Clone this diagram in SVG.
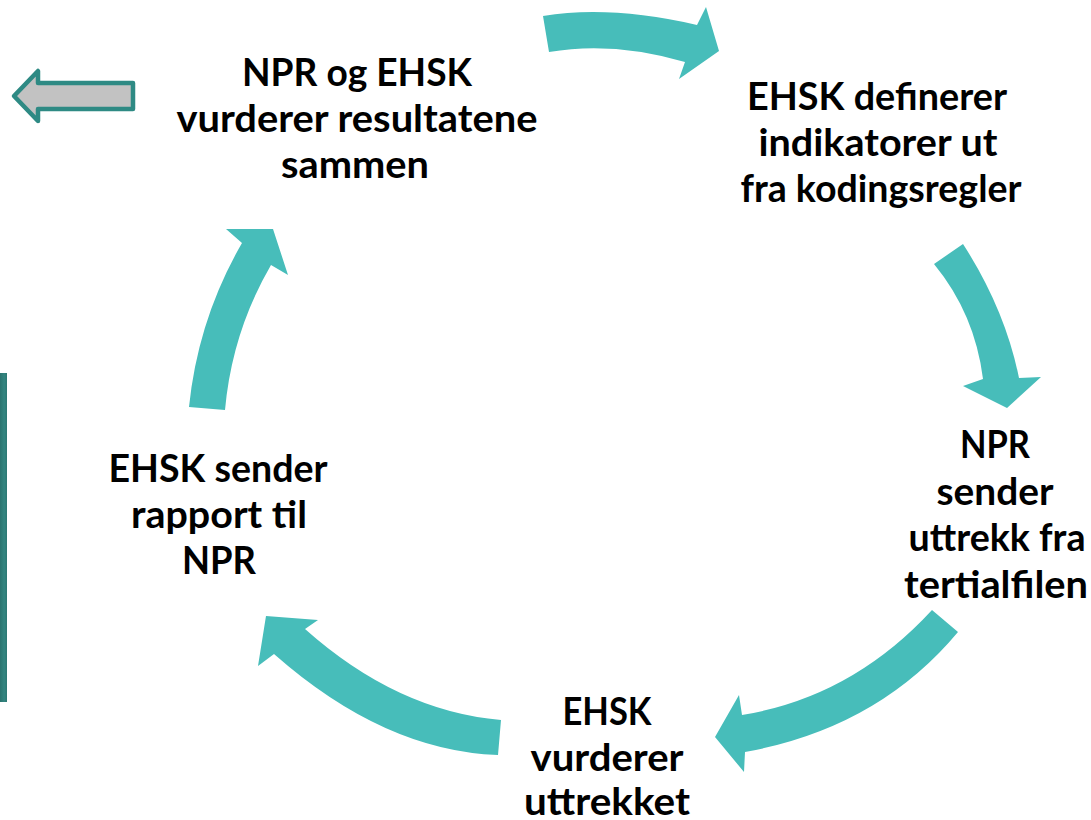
<svg xmlns="http://www.w3.org/2000/svg" width="1091" height="820" viewBox="0 0 1091 820">
  <defs>
    <linearGradient id="barGrad" x1="0" y1="0" x2="1" y2="0">
      <stop offset="0" stop-color="#2a736e"/>
      <stop offset="0.6" stop-color="#338580"/>
      <stop offset="1" stop-color="#2c7873"/>
    </linearGradient>
    <style>
      .arrow { fill: #47BDBA; stroke: none; }
      .lbl { font-family: "Lato", "Open Sans", "Liberation Sans", sans-serif; font-weight: 700; font-size: 38px; fill: #000000; text-anchor: middle; }
      .back { fill: #C2C2C2; stroke: #2E8A84; stroke-width: 4.5; stroke-linejoin: round; }
    </style>
  </defs>
  <rect width="1091" height="820" fill="#FFFFFF"/>

  <g id="side-bar">
    <rect x="0" y="373" width="7" height="329" fill="url(#barGrad)"/>
  </g>

  <g id="back-arrow">
    <path class="back" d="M14,96 L38,71 L38,83 L133,83 L133,109 L38,109 L38,121 Z"/>
  </g>

  <g id="connectors">
    <path id="arrow-1" class="arrow" d="M543,16 Q610,5 697,25 L706,7 L719,51 L679,79 L685,62 Q613,41 549,52 Z"/>
    <path id="arrow-2" class="arrow" d="M963,244 Q1005,309 1019,378 L1041,377 L1007,408 L963,386 L983,379 Q975,314 934,264 Z"/>
    <path id="arrow-3" class="arrow" d="M958,632 Q878,728 745,752 L744,772 L715,737 L739,695 L742,715 Q852,697 932,610 Z"/>
    <path id="arrow-4" class="arrow" d="M498,755 Q384,751 274,654 L258,666 L266,616 L318,620 L305,629 Q397,711 501,720 Z"/>
    <path id="arrow-5" class="arrow" d="M189,407 Q198,319 242,243 L226,229 L273,229 L288,275 L271,265 Q232,332 225,410 Z"/>
  </g>

  <g id="node-npr-ehsk-vurderer">
    <text class="lbl" x="357" y="86" textLength="230" lengthAdjust="spacingAndGlyphs">NPR og EHSK</text>
    <text class="lbl" x="357" y="132" textLength="361" lengthAdjust="spacingAndGlyphs">vurderer resultatene</text>
    <text class="lbl" x="355" y="178" textLength="148" lengthAdjust="spacingAndGlyphs">sammen</text>
  </g>

  <g id="node-ehsk-definerer">
    <text class="lbl" x="877" y="110" textLength="260" lengthAdjust="spacingAndGlyphs">EHSK definerer</text>
    <text class="lbl" x="878" y="156" textLength="239" lengthAdjust="spacingAndGlyphs">indikatorer ut</text>
    <text class="lbl" x="881" y="202" textLength="281" lengthAdjust="spacingAndGlyphs">fra kodingsregler</text>
  </g>

  <g id="node-npr-sender">
    <text class="lbl" x="995" y="458" textLength="70" lengthAdjust="spacingAndGlyphs">NPR</text>
    <text class="lbl" x="995" y="505" textLength="117" lengthAdjust="spacingAndGlyphs">sender</text>
    <text class="lbl" x="997" y="551" textLength="177" lengthAdjust="spacingAndGlyphs">uttrekk fra</text>
    <text class="lbl" x="996" y="598" textLength="184" lengthAdjust="spacingAndGlyphs">tertialfilen</text>
  </g>

  <g id="node-ehsk-vurderer-uttrekket">
    <text class="lbl" x="607" y="725" textLength="89" lengthAdjust="spacingAndGlyphs">EHSK</text>
    <text class="lbl" x="607" y="771" textLength="153" lengthAdjust="spacingAndGlyphs">vurderer</text>
    <text class="lbl" x="607" y="815" textLength="166" lengthAdjust="spacingAndGlyphs">uttrekket</text>
  </g>

  <g id="node-ehsk-sender-rapport">
    <text class="lbl" x="218" y="482" textLength="219" lengthAdjust="spacingAndGlyphs">EHSK sender</text>
    <text class="lbl" x="219" y="528" textLength="176" lengthAdjust="spacingAndGlyphs">rapport til</text>
    <text class="lbl" x="219" y="574" textLength="74" lengthAdjust="spacingAndGlyphs">NPR</text>
  </g>
</svg>
